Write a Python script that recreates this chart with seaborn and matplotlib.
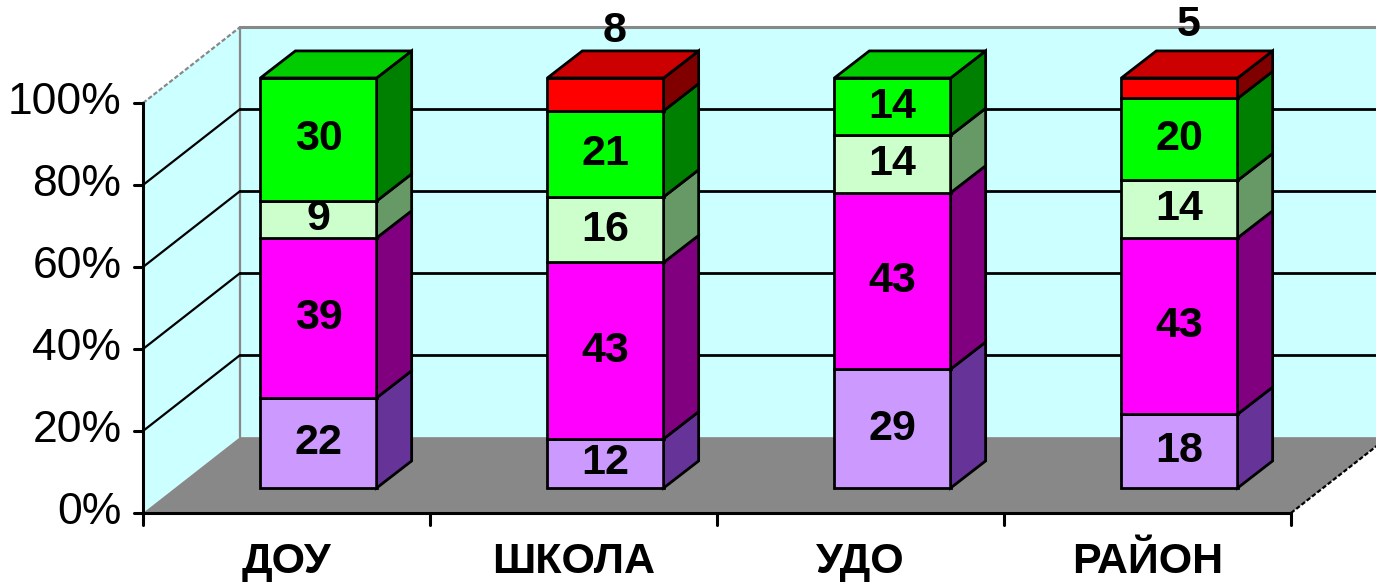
import numpy as np
import matplotlib
matplotlib.use("Agg")
import matplotlib.pyplot as plt
import seaborn as sns

categories = ["ДОУ", "ШКОЛА", "УДО", "РАЙОН"]
seg_lavender = [22, 12, 29, 18]
seg_magenta = [39, 43, 43, 43]
seg_pale = [9, 16, 14, 14]
seg_green = [30, 21, 14, 20]
seg_red = [0, 8, 0, 5]
y_ticks = [0, 20, 40, 60, 80, 100]
y_tick_labels = ["0%", "20%", "40%", "60%", "80%", "100%"]

series = [seg_lavender, seg_magenta, seg_pale, seg_green, seg_red]
front_colors = ["#CC99FF", "#FF00FF", "#CCFFCC", "#00FF00", "#FF0000"]
side_colors = ["#663399", "#800080", "#669966", "#008000", "#800000"]
top_colors = ["#A37ACC", "#CC00CC", "#A3CCA3", "#00CC00", "#CC0000"]

sns.set_style("white")
plt.rcParams["font.family"] = ["Liberation Sans", "DejaVu Sans"]
plt.rcParams["text.color"] = "black"

# pseudo 3d geometry (bar front plane is the data plane)
bar_w = 0.405
bdx, bdy = 0.122, 6.6      # bar depth
fdx, fdy = -0.1115, -6.1   # front (axis) plane
wdx, wdy = 0.2265, 12.4    # back wall plane
n = len(categories)
lw = 2.0

fig = plt.figure(figsize=(13.76, 5.82), dpi=100)
ax = fig.add_axes([0, 0, 1, 1])

# walls and floor
ax.fill([-0.5 + wdx, n - 0.5 + wdx, n - 0.5 + wdx, -0.5 + wdx],
        [wdy, wdy, 100 + wdy, 100 + wdy], color="#CCFFFF", lw=0, zorder=0)
ax.fill([-0.5 + fdx, -0.5 + wdx, -0.5 + wdx, -0.5 + fdx],
        [fdy, wdy, 100 + wdy, 100 + fdy], color="#CCFFFF", lw=0, zorder=0)
ax.fill([-0.5 + fdx, n - 0.5 + fdx, n - 0.5 + wdx, -0.5 + wdx],
        [fdy, fdy, wdy, wdy], color="#888888", lw=0, zorder=0.5)

# wall edges
ax.plot([-0.5 + wdx, n - 0.5 + wdx], [100 + wdy, 100 + wdy], color="#888888", lw=2.2, zorder=1)
ax.plot([-0.5 + wdx, -0.5 + wdx], [wdy, 100 + wdy], color="#888888", lw=1.6, zorder=1)
ax.plot([-0.5 + fdx, -0.5 + wdx], [100 + fdy, 100 + wdy], color="#888888", lw=1.6,
        ls=(0, (2, 1)), zorder=1)

# gridlines
for v in y_ticks[1:-1]:
    ax.plot([-0.5 + wdx, n - 0.5 + wdx], [v + wdy, v + wdy], color="black", lw=lw, zorder=1)
    ax.plot([-0.5 + fdx, -0.5 + wdx], [v + fdy, v + wdy], color="black", lw=1.6, zorder=1)

# axes
ax.plot([-0.5 + fdx, -0.5 + fdx], [fdy, 100 + fdy], color="black", lw=2.2, zorder=1.5)
ax.plot([-0.5 + fdx, n - 0.5 + fdx], [fdy, fdy], color="black", lw=2.2, zorder=1.5)
ax.plot([n - 0.5 + fdx, n - 0.5 + wdx], [fdy, wdy], color="black", lw=1.6,
        ls=(0, (2, 1)), zorder=1.5)
for v, lab in zip(y_ticks, y_tick_labels):
    ax.plot([-0.5 + fdx - 0.03, -0.5 + fdx], [v + fdy, v + fdy], color="black", lw=2.2, zorder=1.5)
    ax.text(-0.5 + fdx - 0.075, v + fdy, lab, ha="right", va="center", fontsize=32)
for b in np.arange(-0.5, n, 1.0):
    ax.plot([b + fdx, b + fdx], [fdy, fdy - 3.0], color="black", lw=2.2, zorder=1.5)
for i, c in enumerate(categories):
    ax.text(i + fdx, fdy - 14.6, c, ha="center", va="baseline", fontsize=31, fontweight="bold")

# stacked bars
bottom = np.zeros(n)
for k, vals in enumerate(series):
    vals = np.array(vals, dtype=float)
    sns.barplot(x=categories, y=vals, order=categories, color=front_colors[k],
                saturation=1, width=bar_w, bottom=bottom, errorbar=None,
                edgecolor="black", linewidth=lw, zorder=3, ax=ax)
    for i in range(n):
        if vals[i] <= 0:
            continue
        xr = i + bar_w / 2
        xl = i - bar_w / 2
        y0, y1 = bottom[i], bottom[i] + vals[i]
        ax.fill([xr, xr + bdx, xr + bdx, xr], [y0, y0 + bdy, y1 + bdy, y1],
                facecolor=side_colors[k], edgecolor="black", lw=lw, zorder=3)
        top_seg = all(series[j][i] == 0 for j in range(k + 1, len(series)))
        if top_seg:
            ax.fill([xl, xr, xr + bdx, xl + bdx], [y1, y1, y1 + bdy, y1 + bdy],
                    facecolor=top_colors[k], edgecolor="black", lw=lw, zorder=3)
        if k == len(series) - 1:
            ax.text(i + bdx / 4, y0 + vals[i] / 2 + 15.4, f"{vals[i]:.0f}",
                    ha="center", va="center", fontsize=31, fontweight="bold", zorder=5)
        else:
            ax.text(i, y0 + vals[i] / 2, f"{vals[i]:.0f}", ha="center", va="center",
                    fontsize=31, fontweight="bold", zorder=5)
    bottom = bottom + vals

ax.set_xlim(-1.1098, 3.6847)
ax.set_ylim(-22.93, 119.02)
ax.axis("off")
fig.savefig("out.png", dpi=100, facecolor="white")
